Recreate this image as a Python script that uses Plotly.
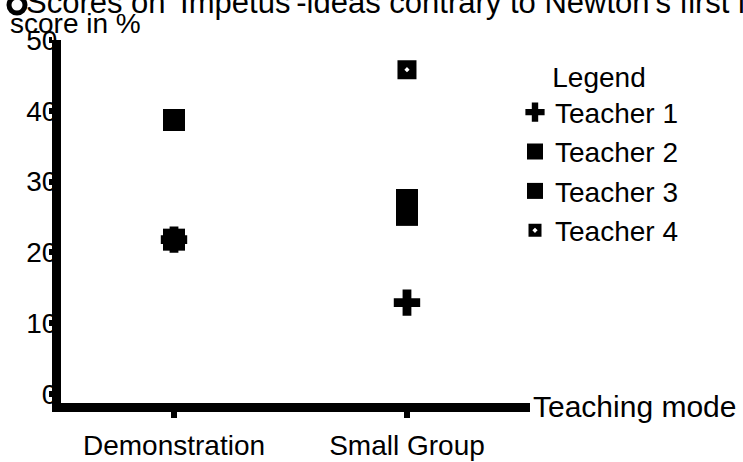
import plotly.graph_objects as go

categories = ["Demonstration", "Small Group"]
teachers = ["Teacher 1", "Teacher 2", "Teacher 3", "Teacher 4"]
scores = {
    "Teacher 1": [21.8, 12.9],
    "Teacher 2": [38.7, 27.4],
    "Teacher 3": [21.8, 25.3],
    "Teacher 4": [None, 45.8],
}
symbols = {"Teacher 1": "cross", "Teacher 2": "square", "Teacher 3": "square", "Teacher 4": "square-dot"}
y_ticks = [0, 10, 20, 30, 40, 50]

title_text = "Scores on 'Impetus'-ideas contrary to Newton's first law"
font = "Liberation Sans"

fig = go.Figure()
for t in teachers:
    fig.add_trace(go.Scatter(
        x=categories, y=scores[t], mode="markers", name=t,
        marker=dict(symbol=symbols[t], size=22, color="black",
                    line=dict(color="white", width=3 if symbols[t] == "square-dot" else 0)),
    ))

L, R, T, B = 61, 213, 40, 59
PW, PH = 743 - L - R, 462 - T - B


def px(x):
    return (x - L) / PW


def py(y):
    return 1 + (T - y) / PH


fig.update_layout(
    width=743, height=462,
    margin=dict(l=L, r=R, t=T, b=B, autoexpand=False),
    paper_bgcolor="white", plot_bgcolor="white",
    font=dict(family=font, size=28, color="black"),
    xaxis=dict(type="category", range=[-0.485, 1.528], showline=True, linewidth=9,
               linecolor="black", showgrid=False, zeroline=False, ticks="outside",
               ticklen=6, tickwidth=6, tickcolor="black", ticklabelstandoff=3,
               automargin=False, tickfont=dict(family=font, size=28)),
    yaxis=dict(range=[-1.27, 50], tickvals=y_ticks, showline=True, linewidth=9,
               linecolor="black", showgrid=False, zeroline=False, ticks="outside",
               ticklen=3, tickwidth=6, tickcolor="black", ticklabelstandoff=-14,
               automargin=False, tickfont=dict(family=font, size=28)),
    legend=dict(x=px(515), xanchor="left", y=py(51), yanchor="top",
                title=dict(text="Legend", side="top center", font=dict(size=28)),
                font=dict(family=font, size=28), itemwidth=30, tracegroupgap=0,
                bgcolor="rgba(0,0,0,0)"),
    showlegend=True,
)

fig.add_annotation(text=title_text, xref="paper", yref="paper", x=px(24), y=py(2),
                   xanchor="left", yanchor="middle", showarrow=False,
                   font=dict(family=font, size=31))
fig.add_annotation(text="score in %", xref="paper", yref="paper", x=px(8), y=py(23),
                   xanchor="left", yanchor="middle", showarrow=False,
                   font=dict(family=font, size=28))
fig.add_annotation(text="Teaching mode", xref="paper", yref="paper", x=px(531), y=py(406),
                   xanchor="left", yanchor="middle", showarrow=False,
                   font=dict(family=font, size=30))
fig.add_shape(type="circle", xref="paper", yref="paper", x0=px(9), x1=px(25),
              y0=py(13), y1=py(-3), line=dict(color="black", width=5))

fig.write_html("out.html", config={"displayModeBar": False},
               post_script="document.body.style.margin='0px';")
